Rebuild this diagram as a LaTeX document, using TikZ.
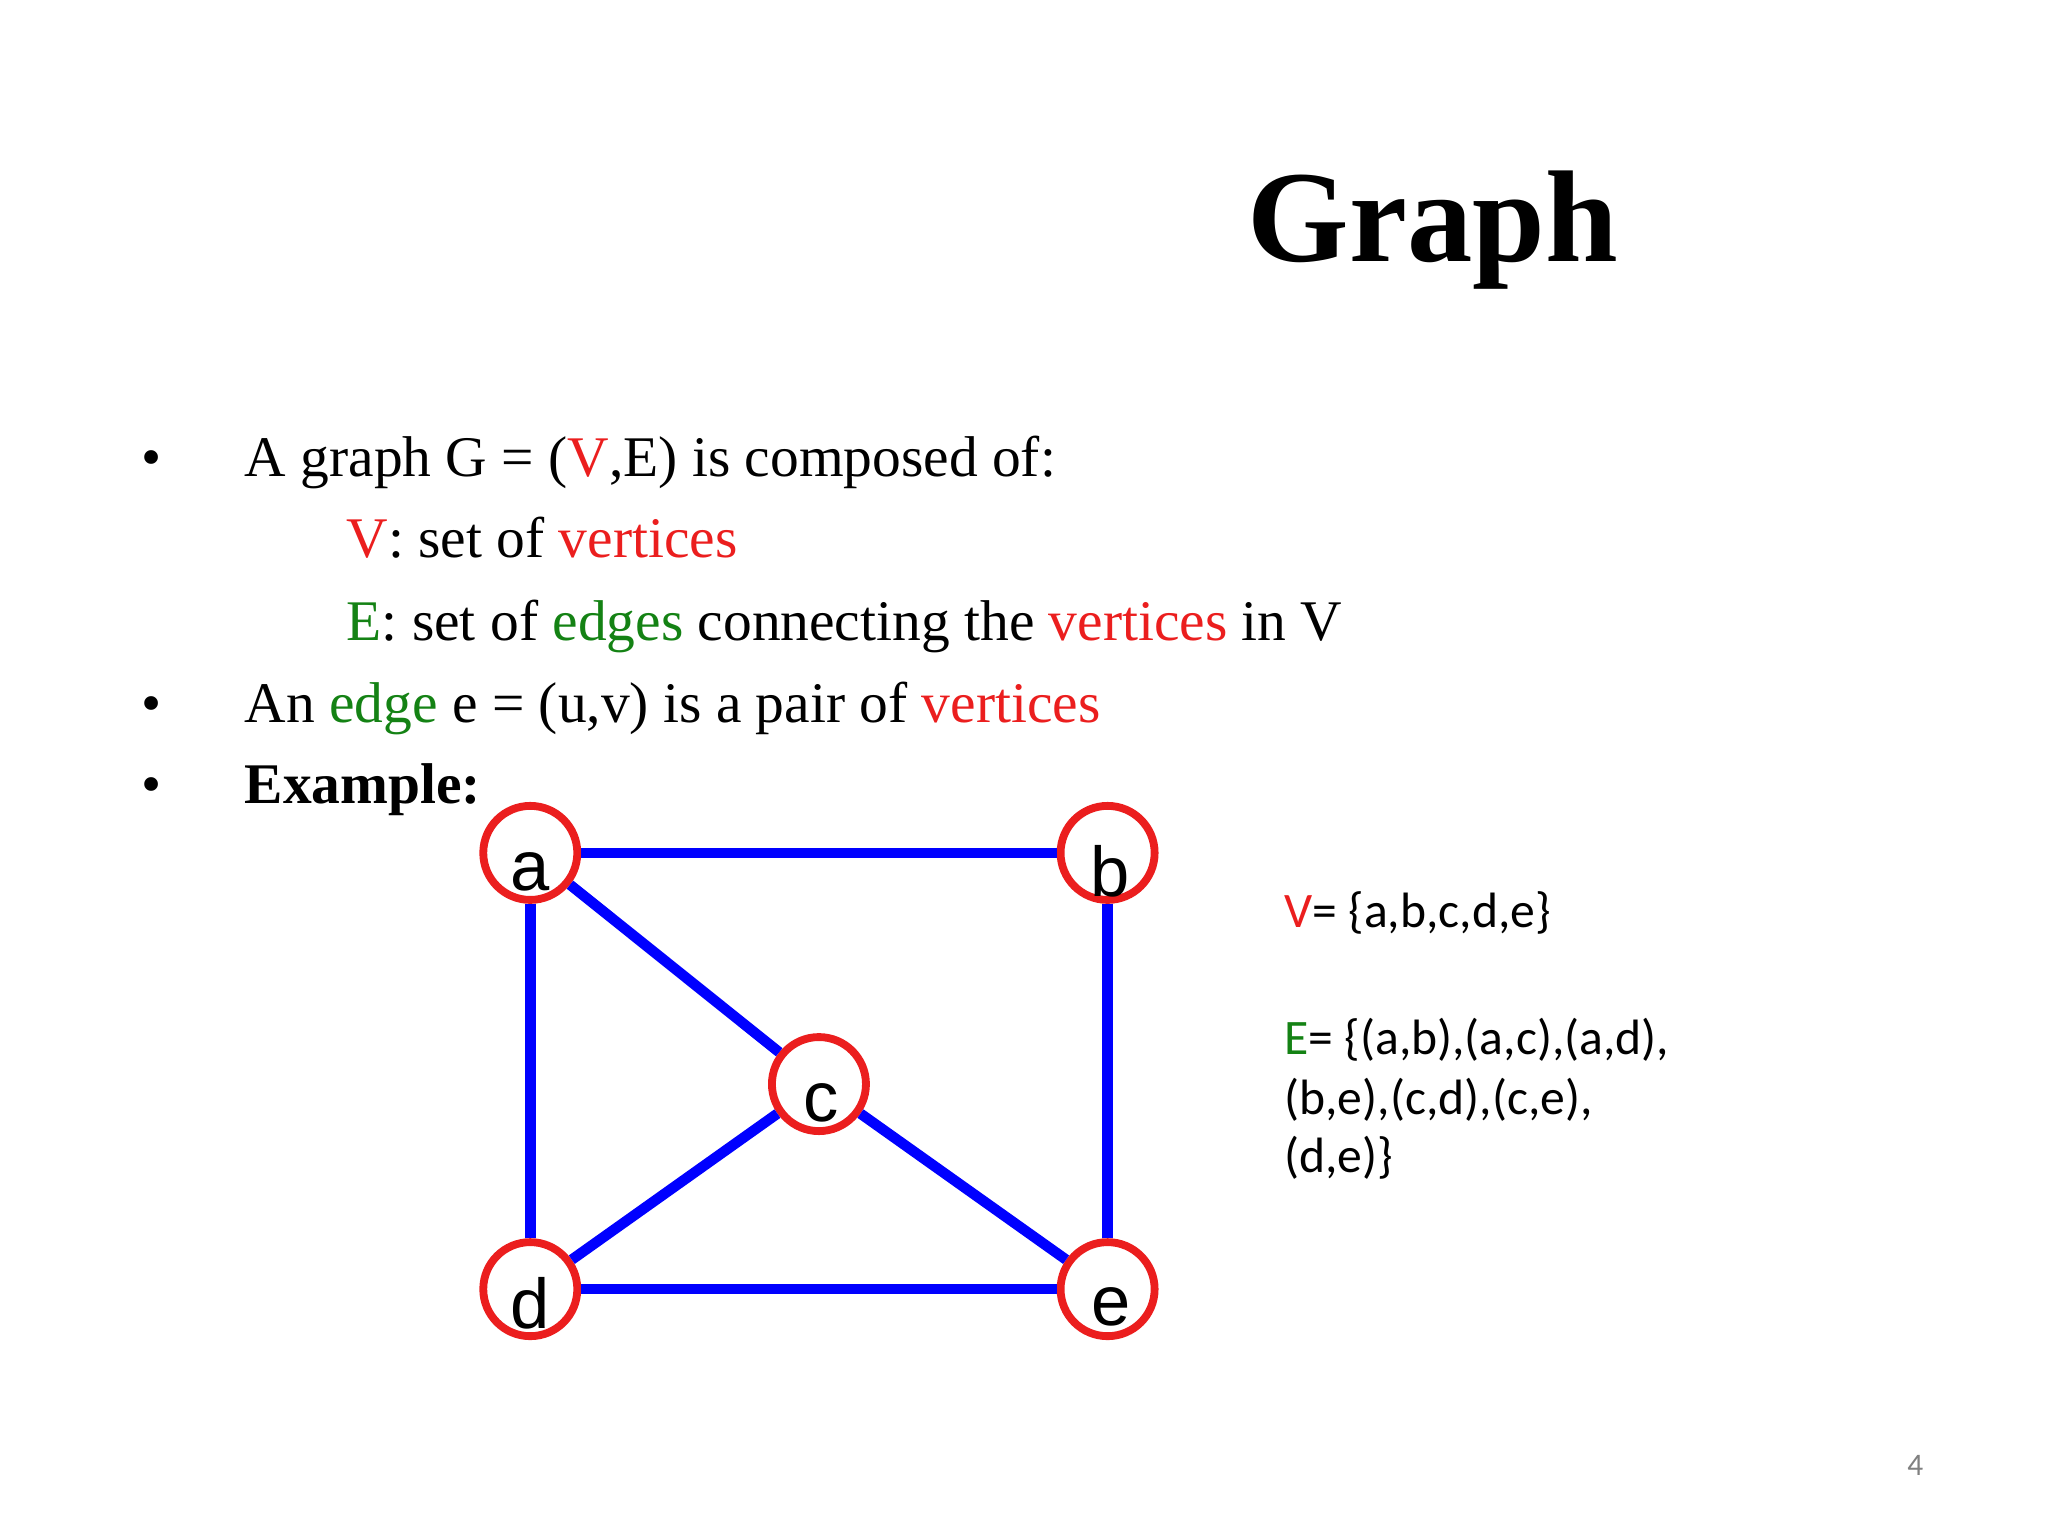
\documentclass[tikz,border=0pt]{standalone}
\usepackage{fontspec}
\setmainfont{Liberation Serif}
\newfontfamily\calfnt{Carlito}
\newfontfamily\arifnt{Liberation Sans}
\definecolor{rd}{RGB}{235,30,30}
\definecolor{gr}{RGB}{20,130,20}
\begin{document}
\begin{tikzpicture}[x=0.5pt,y=-0.5pt,
 txt/.style={anchor=base west,inner sep=0pt,font=\fontsize{22}{26}\selectfont},
 vert/.style={circle,draw=rd,line width=3pt,minimum size=36pt,inner sep=0pt,fill=white},
 vlab/.style={font=\arifnt\fontsize{27}{30}\selectfont,anchor=base,inner sep=0pt},
 edge/.style={draw=blue,line width=4pt},
 rtxt/.style={anchor=base west,inner sep=0pt,font=\calfnt\fontsize{19}{22}\selectfont}]
\useasboundingbox (0,0) rectangle (1568,1176);
\node[anchor=base west,inner sep=0pt,font=\bfseries\fontsize{50}{56}\selectfont] (title) at (955,200) {Graph};
\node[txt] (b1) at (108,365) {\textbullet};
\node[txt] (l1) at (187,365) {A graph G = (\textcolor{rd}{V},E) is composed of:};
\node[txt] (l2) at (265,427) {\textcolor{rd}{V}: set of \textcolor{rd}{vertices}};
\node[txt] (l3) at (265,490) {\textcolor{gr}{E}: set of \textcolor{gr}{edges} connecting the \textcolor{rd}{vertices} in V};
\node[txt] (b2) at (108,553) {\textbullet};
\node[txt] (l4) at (187,553) {An \textcolor{gr}{edge} e = (u,v) is a pair of \textcolor{rd}{vertices}};
\node[txt] (b3) at (108,615) {\textbullet};
\node[txt] (l5) at (187,615) {\textbf{Example:}};
\node[vert] (a) at (406,653) {};
\node[vert] (b) at (848,653) {};
\node[vert] (c) at (627,830) {};
\node[vert] (d) at (406,987) {};
\node[vert] (e) at (848,987) {};
\draw[edge] (a)--(b); \draw[edge] (a)--(c); \draw[edge] (a)--(d);
\draw[edge] (b)--(e); \draw[edge] (c)--(d); \draw[edge] (c)--(e); \draw[edge] (d)--(e);
\node[vlab] (la) at (406,682) {a};
\node[vlab] (lb) at (850,686) {b};
\node[vlab] (lc) at (629,859) {c};
\node[vlab] (ld) at (406,1017) {d};
\node[vlab] (le) at (851,1015) {e};
\node[rtxt] (r1) at (983,710) {\textcolor{rd}{V}= \{a,b,c,d,e\}};
\node[rtxt] (r2) at (983,807) {\textcolor{gr}{E}= \{(a,b),(a,c),(a,d),};
\node[rtxt] (r3) at (983,853) {(b,e),(c,d),(c,e),};
\node[rtxt] (r4) at (983,898) {(d,e)\}};
\node[anchor=base west,inner sep=0pt,font=\calfnt\fontsize{12}{14}\selectfont,text=gray] (pg) at (1460,1130) {4};
\end{tikzpicture}
\end{document}
